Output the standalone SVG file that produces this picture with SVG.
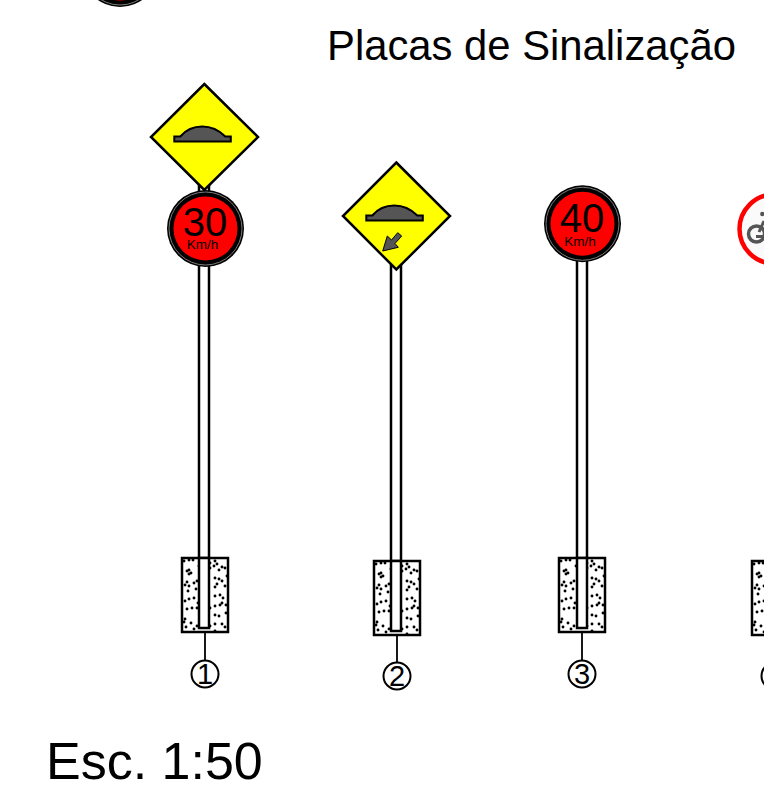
<svg xmlns="http://www.w3.org/2000/svg" xmlns:xlink="http://www.w3.org/1999/xlink" width="764" height="809" viewBox="0 0 764 809">
<style>
.t{font-family:"Liberation Sans",Arial,sans-serif;fill:#000}
.big{font-size:40px;text-anchor:middle}
.sm{font-size:13.500px;text-anchor:middle}
.num{font-size:29px;text-anchor:middle}
.dia{fill:#ff0;stroke:#000;stroke-width:2.500;stroke-linejoin:miter}
.bump{fill:#555;stroke:#000;stroke-width:2}
.pole{fill:#fff;stroke:#000;stroke-width:2.500}
.foot{fill:#fff;stroke:#000;stroke-width:2.500}
.dots{fill:none;stroke:#000;stroke-width:2.900;stroke-linecap:round}
.stem{fill:none;stroke:#000;stroke-width:1.800}
.ncirc{fill:#fff;stroke:#000;stroke-width:2}
.ring{fill:#000}
.ringw{fill:none;stroke:#999;stroke-width:.8}
.red{fill:#f00}
</style>
<defs>
<g id="footing">
<rect class="foot" x="0" y="0" width="46" height="74"/>
<path class="dots" d="M2 3h.01M7 2h.01M11 2h.01M5 13h.01M7 12h.01M9 15h.01M7 16h.01M17 8h.01M15 23h.01M12 25h.01M5 24h.01M3 27h.01M6 33h.01M7 28h.01M14 31h.01M3 43h.01M7 41h.01M12 40h.01M5 51h.01M10 50h.01M15 50h.01M16 45h.01M3 61h.01M2 64h.01M9 65h.01M4 69h.01M15 68h.01M12 71h.01M28 5h.01M33 3h.01M35 6h.01M28 10h.01M32 8h.01M37 12h.01M40 9h.01M43 10h.01M33 20h.01M37 21h.01M35 26h.01M33 29h.01M40 23h.01M45 18h.01M43 28h.01M33 38h.01M38 37h.01M41 40h.01M40 45h.01M33 48h.01M38 47h.01M44 47h.01M28 50h.01M33 57h.01M37 58h.01M44 55h.01M28 68h.01M33 66h.01M40 66h.01M43 69h.01M33 73h.01"/>
</g>
<g id="disc">
<circle class="ring" r="38.500"/>
<circle class="ringw" r="36.500"/>
<circle class="red" r="32"/>
</g>
<g id="hump">
<path class="bump" d="M-30 -1H-24C-19 -7 -11 -11 -2 -11C7 -11 15 -7 21 -1H26.500V4H-30Z"/>
</g>
</defs>
<rect width="764" height="809" fill="#fff"/>
<text class="t" x="327" y="60" font-size="41.800">Placas de Sinalização</text>
<text class="t" x="46" y="779" font-size="52">Esc. 1:50</text>
<g id="connectors">
<path class="stem" d="M205 632V661M397 635V663M582 632V661"/>
</g>
<g id="top-sign"><use href="#disc" x="120" y="-31.500"/></g>
<g id="sign-1">
<rect class="pole" x="199" y="180" width="10" height="448"/>
<use href="#footing" x="182" y="558"/>
<rect class="pole" x="199" y="558" width="10" height="70"/>
<use href="#disc" x="205.500" y="228.500"/>
<path class="dia" d="M204.300 84L258 137L204.300 190L151 137Z"/>
<use href="#hump" x="204.300" y="137.500"/>
<text class="t big" x="205" y="236">30</text>
<text class="t sm" x="202.500" y="249">Km/h</text>
<circle class="ncirc" cx="205" cy="674" r="13.500"/>
<text class="t num" x="205" y="684">1</text>
</g>
<g id="sign-2">
<rect class="pole" x="391" y="262" width="10" height="369"/>
<use href="#footing" x="374" y="561"/>
<rect class="pole" x="391" y="561" width="10" height="70"/>
<path class="dia" d="M396.300 162.500L450 216L396.300 269.500L343 216Z"/>
<use href="#hump" x="396.300" y="216.500"/>
<path fill="#555" stroke="#000" stroke-width="1" d="M382.700 251L387.300 236L391.500 240L397.700 232.700L401.700 236L395 243.500L398.300 247.300Z"/>
<circle class="ncirc" cx="397" cy="676" r="13.500"/>
<text class="t num" x="397" y="686">2</text>
</g>
<g id="sign-3">
<rect class="pole" x="577" y="255" width="10" height="373"/>
<use href="#footing" x="559" y="558"/>
<rect class="pole" x="577" y="558" width="10" height="70"/>
<use href="#disc" x="582.500" y="223.800"/>
<text class="t big" x="582" y="232">40</text>
<text class="t sm" x="580" y="246">Km/h</text>
<circle class="ncirc" cx="582" cy="674" r="13.500"/>
<text class="t num" x="582" y="684">3</text>
</g>
<g id="sign-4">
<circle cx="774" cy="229" r="34.500" fill="#fafafa" stroke="#f00" stroke-width="4.500"/>
<circle cx="756.500" cy="234" r="8" fill="none" stroke="#555" stroke-width="3.500"/>
<circle cx="762.300" cy="214" r="2.200" fill="#555"/>
<path d="M764 221L759 232M756 236.500H764" fill="none" stroke="#555" stroke-width="3"/>
<use href="#footing" x="752" y="561"/>
<circle class="ncirc" cx="775" cy="676" r="13.500"/>
</g>
</svg>
